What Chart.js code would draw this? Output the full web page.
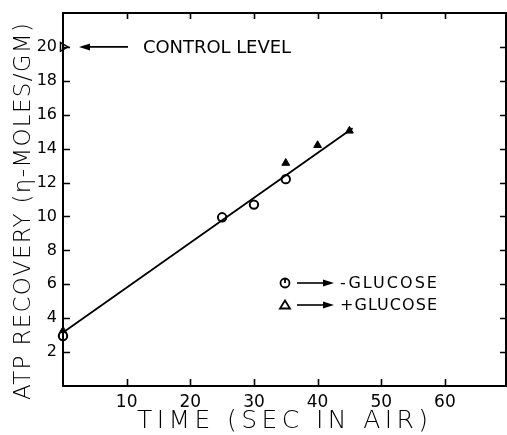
<!DOCTYPE html>
<html><head><meta charset="utf-8">
<script src="https://cdn.jsdelivr.net/npm/chart.js@4"></script>
<style>html,body{margin:0;padding:0;background:#fff}#c{display:block}</style>
</head><body>
<canvas id="c" width="507" height="435"></canvas>
<script>
const xTicks = [10, 20, 30, 40, 50, 60];
const yTicks = [2, 4, 6, 8, 10, 12, 14, 16, 18, 20];
const minusTime = [0, 25, 30, 35];
const minusATP = [2.95, 9.95, 10.7, 12.2];
const plusTime = [0, 35, 40, 45];
const plusATP = [3.25, 13.15, 14.2, 15.05];
const fitTime = [0, 45.5];
const fitATP = [3.15, 15.2];
const controlTime = [0];
const controlATP = [20];
const FONT = "'DejaVu Sans', sans-serif";

const pts = (xs, ys) => xs.map((x, i) => ({x, y: ys[i]}));

function fitText(ctx, txt, x, y, width, font) {
  ctx.save();
  ctx.font = font;
  ctx.letterSpacing = '0px';
  const w = ctx.measureText(txt).width;
  const ls = (width - w) / Math.max(1, txt.length - 1);
  ctx.letterSpacing = ls.toFixed(2) + 'px';
  ctx.fillText(txt, x, y);
  ctx.restore();
}
function arrow(ctx, x1, y, x2) {
  const dir = Math.sign(x2 - x1);
  ctx.save();
  ctx.strokeStyle = '#000'; ctx.fillStyle = '#000'; ctx.lineWidth = 1.6;
  ctx.beginPath(); ctx.moveTo(x1, y); ctx.lineTo(x2 - dir * 8, y); ctx.stroke();
  ctx.beginPath(); ctx.moveTo(x2, y); ctx.lineTo(x2 - dir * 11, y - 3.5); ctx.lineTo(x2 - dir * 11, y + 3.5); ctx.closePath(); ctx.fill();
  ctx.restore();
}

const deco = {
  id: 'deco',
  afterDraw(chart) {
    const {ctx, chartArea: a, scales: {x, y}} = chart;
    ctx.save();
    ctx.strokeStyle = '#000';
    ctx.lineWidth = 2;
    ctx.strokeRect(a.left, a.top, a.right - a.left, a.bottom - a.top);
    ctx.lineWidth = 1.6;
    ctx.beginPath();
    xTicks.forEach(v => {
      const px = Math.round(x.getPixelForValue(v)) + 0.5;
      ctx.moveTo(px, a.bottom); ctx.lineTo(px, a.bottom - 7);
      ctx.moveTo(px, a.top); ctx.lineTo(px, a.top + 6);
    });
    yTicks.forEach(v => {
      const py = Math.round(y.getPixelForValue(v)) + 0.5;
      ctx.moveTo(a.left, py); ctx.lineTo(a.left + 7, py);
      ctx.moveTo(a.right, py); ctx.lineTo(a.right - 6, py);
    });
    ctx.stroke();

    ctx.fillStyle = '#000';
    ctx.textBaseline = 'middle';
    ctx.textAlign = 'left';
    const cy = y.getPixelForValue(20);
    arrow(ctx, 128, cy, 79);
    fitText(ctx, 'CONTROL LEVEL', 143, cy + 1, 148, '18px ' + FONT);

    const r1 = 283, r2 = 305, lx = 285;
    ctx.lineWidth = 1.8;
    ctx.beginPath(); ctx.arc(lx, r1, 4.5, 0, Math.PI * 2); ctx.stroke();
    ctx.beginPath(); ctx.moveTo(lx, r1 - 4.5); ctx.lineTo(lx, r1); ctx.stroke();
    ctx.beginPath(); ctx.moveTo(lx - 5, r2 + 3.5); ctx.lineTo(lx + 5, r2 + 3.5); ctx.lineTo(lx, r2 - 4.5); ctx.closePath(); ctx.stroke();
    arrow(ctx, 297, r1, 334);
    arrow(ctx, 297, r2, 334);
    fitText(ctx, '-GLUCOSE', 340, r1 + 1, 97, '16px ' + FONT);
    fitText(ctx, '+GLUCOSE', 340, r2 + 1, 97, '16px ' + FONT);

    fitText(ctx, 'TIME (SEC IN AIR)', 137, 421, 291, '300 25px ' + FONT);
    ctx.save();
    ctx.translate(24, 400);
    ctx.rotate(-Math.PI / 2);
    fitText(ctx, 'ATP RECOVERY (η-MOLES/GM)', 0, 0, 377, '300 23px ' + FONT);
    ctx.restore();
    ctx.restore();
  }
};

new Chart(document.getElementById('c'), {
  type: 'scatter',
  data: {
    datasets: [
      { type: 'line', data: pts(fitTime, fitATP), borderColor: '#000', borderWidth: 1.8, pointRadius: 0, fill: false, clip: false },
      { data: pts(minusTime, minusATP), pointStyle: 'circle', pointRadius: 4.2, borderColor: '#000', borderWidth: 2, backgroundColor: '#fff', clip: false },
      { data: pts(plusTime, plusATP), pointStyle: 'triangle', pointRadius: 4.5, borderColor: '#000', borderWidth: 1, backgroundColor: '#000', clip: false },
      { data: pts(controlTime, controlATP), pointStyle: 'triangle', rotation: 90, pointRadius: 5, borderColor: '#000', borderWidth: 1.5, backgroundColor: '#fff', clip: false }
    ]
  },
  options: {
    responsive: false,
    animation: false,
    layout: { autoPadding: false, padding: { top: 13, right: 1, left: 0, bottom: 0 } },
    plugins: { legend: { display: false }, tooltip: { enabled: false } },
    scales: {
      x: {
        type: 'linear', min: 0, max: 69.6,
        afterBuildTicks: s => { s.ticks = xTicks.map(v => ({value: v})); },
        afterFit: s => { s.height = 49; s.paddingRight = 0; s.paddingLeft = 0; },
        grid: { display: false, drawTicks: false },
        border: { display: false },
        ticks: { color: '#000', font: { family: FONT, size: 17 }, padding: 6, maxRotation: 0, autoSkip: false }
      },
      y: {
        type: 'linear', min: 0, max: 22,
        afterBuildTicks: s => { s.ticks = yTicks.map(v => ({value: v})); },
        afterFit: s => { s.width = 63; s.paddingTop = 0; s.paddingBottom = 0; },
        grid: { display: false, drawTicks: false },
        border: { display: false },
        ticks: { color: '#000', font: { family: FONT, size: 16 }, padding: 6, autoSkip: false }
      }
    }
  },
  plugins: [deco]
});
</script>
</body></html>
